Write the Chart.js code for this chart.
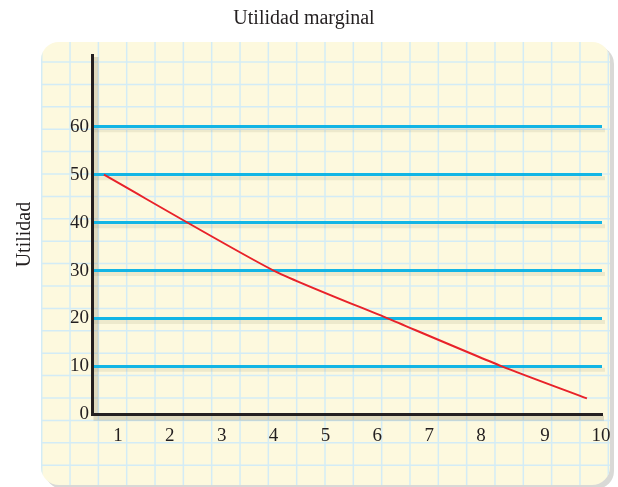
<!DOCTYPE html>
<html>
<head>
<meta charset="utf-8">
<script src="https://cdn.jsdelivr.net/npm/chart.js@4.4.1/dist/chart.umd.min.js"></script>
<style>
  body { margin: 0; background: #fff; }
  #wrap { width: 618px; height: 487px; }
</style>
</head>
<body>
<div id="wrap"><canvas id="utilidad"></canvas></div>
<script>
// data
var cantidad = [0.73, 4, 6.2, 8.4, 10.04];
var utilidad = [50, 30, 20, 10, 3.3];
var xTickValues = [1, 2, 3, 4, 5, 6, 7, 8, 9.23, 10.31];
var xTickLabels = ["1", "2", "3", "4", "5", "6", "7", "8", "9", "10"];
var yTickValues = [0, 10, 20, 30, 40, 50, 60];

var ink = "#231f20";
var serif = "'Liberation Serif', 'DejaVu Serif', serif";

// graph paper behind the chart
var paper = {
  id: "paper",
  beforeDraw: function (chart) {
    var c = chart.ctx, a = chart.chartArea;
    c.save();
    c.fillStyle = "#fff";
    c.fillRect(0, 0, chart.width, chart.height);
    // panel shadow
    c.fillStyle = "#d9d9d6";
    c.beginPath();
    c.roundRect(45, 46, 569, 443, 18);
    c.fill();
    c.fillStyle = "#fdf9de";
    c.beginPath();
    c.roundRect(41, 42, 569, 443, 18);
    c.fill();
    c.clip();
    c.strokeStyle = "#d3ecf6";
    c.lineWidth = 1.5;
    for (var x = 41.7; x < 610; x += 28.33) {
      c.beginPath(); c.moveTo(x, 42); c.lineTo(x, 485); c.stroke();
    }
    for (var y = 39.6; y < 485; y += 22.4) {
      c.beginPath(); c.moveTo(41, y); c.lineTo(610, y); c.stroke();
    }
    // soft shadows under the blue lines and axes
    var ys = chart.scales.y;
    c.strokeStyle = "rgba(150,140,100,0.15)";
    c.lineWidth = 4;
    yTickValues.forEach(function (v) {
      if (v === 0) return;
      var py = ys.getPixelForValue(v) + 3.5;
      c.beginPath(); c.moveTo(a.left, py); c.lineTo(a.right + 3, py); c.stroke();
    });
    c.strokeStyle = "rgba(120,110,80,0.22)";
    c.lineWidth = 5;
    c.beginPath(); c.moveTo(a.left + 4, a.top + 2); c.lineTo(a.left + 4, a.bottom + 4); c.lineTo(a.right + 2, a.bottom + 4); c.stroke();
    c.restore();
  }
};

var chart = new Chart("utilidad", {
  type: "line",
  data: {
    datasets: [{
      data: cantidad.map(function (q, i) { return {x: q, y: utilidad[i]}; }),
      borderColor: "#e8222a",
      borderWidth: 2,
      pointRadius: 0,
      tension: 0.2,
      fill: false
    }]
  },
  options: {
    responsive: true,
    maintainAspectRatio: false,
    animation: false,
    layout: {padding: {left: 6, right: 16, top: 0, bottom: 38}},
    plugins: {
      legend: {display: false},
      tooltip: {enabled: false},
      title: {
        display: true,
        text: "Utilidad marginal",
        color: ink,
        font: {family: serif, size: 20, weight: "normal"},
        padding: {top: 7, bottom: 24}
      }
    },
    scales: {
      x: {
        type: "linear",
        min: 0.5,
        max: 10.33,
        afterBuildTicks: function (s) {
          s.ticks = xTickValues.map(function (v) { return {value: v}; });
        },
        grid: {display: false},
        border: {display: true, color: ink, width: 3},
        ticks: {
          color: ink,
          font: {family: serif, size: 19},
          padding: 2,
          maxRotation: 0,
          autoSkip: false,
          callback: function (v, i) { return xTickLabels[i]; }
        }
      },
      y: {
        min: 0,
        max: 75,
        afterBuildTicks: function (s) {
          s.ticks = yTickValues.map(function (v) { return {value: v}; });
        },
        grid: {
          drawTicks: false,
          lineWidth: 3,
          color: function (ctx) { return ctx.tick && ctx.tick.value === 0 ? "rgba(0,0,0,0)" : "#12b5e5"; }
        },
        border: {display: true, color: ink, width: 3},
        title: {
          display: true,
          text: "Utilidad",
          color: ink,
          font: {family: serif, size: 20},
          padding: {top: 7, bottom: 30}
        },
        ticks: {
          color: ink,
          font: {family: serif, size: 19},
          padding: 3,
          autoSkip: false
        }
      }
    }
  },
  plugins: [paper]
});
</script>
</body>
</html>
